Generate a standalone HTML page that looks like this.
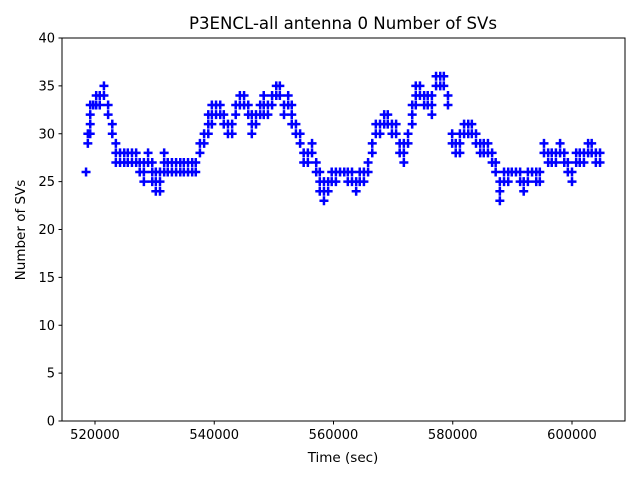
<!DOCTYPE html>
<html><head><meta charset="utf-8"><style>
body{margin:0;background:#fff;}
svg{display:block;font-family:"DejaVu Sans","Liberation Sans",sans-serif;}
</style></head><body>
<svg id="chart" width="640" height="480" viewBox="0 0 640 480">
<rect width="640" height="480" fill="#fff"/>
<text x="343" y="29" font-size="16.6" text-anchor="middle">P3ENCL-all antenna 0 Number of SVs</text>
<text x="343" y="462" font-size="13.5" text-anchor="middle">Time (sec)</text>
<text x="25" y="230" font-size="13.5" text-anchor="middle" transform="rotate(-90 25 230)">Number of SVs</text>
<g id="marks"></g>
<g id="axes"></g>
<rect x="62" y="38" width="563" height="383" fill="none" stroke="#000" stroke-width="1"/>
</svg>
<script>
const times = [518500,518800,519200,519700,520200,520800,521500,522200,522900,523500,524200,524900,525500,526200,526900,527500,528200,528900,529600,530200,530900,531600,532200,532900,533600,534300,534900,535600,536300,536900,537600,538300,539000,539600,540300,541000,541600,542300,543000,543600,544300,545000,545700,546300,547000,547700,548300,549000,549700,550400,551000,551700,552400,553000,553700,554400,555000,555700,556400,557100,557700,558400,559100,559700,560400,561100,561800,562400,563100,563800,564400,565100,565800,566500,567100,567800,568500,569100,569800,570500,571100,571800,572500,573200,573800,574500,575200,575800,576500,577200,577900,578500,579200,579900,580500,581200,581900,582600,583200,583900,584600,585200,585900,586600,587200,587900,588600,589300,589900,590600,591300,591900,592600,593300,594000,594600,595300,596000,596600,597300,598000,598700,599300,600000,600700,601300,602000,602700,603300,604000,604700];
const lows =  [26,29,30,33,33,33,34,32,30,27,27,27,27,27,27,26,25,27,25,24,24,26,26,26,26,26,26,26,26,26,28,29,30,31,32,32,31,30,30,32,33,33,32,30,31,32,32,32,33,34,34,32,33,31,30,29,27,27,28,26,24,23,24,25,25,26,26,25,25,24,25,25,26,28,30,30,31,31,30,30,28,27,29,31,33,34,33,33,32,35,35,35,33,29,28,28,30,30,30,29,28,28,28,27,26,23,25,25,26,26,25,24,25,26,25,25,28,27,27,27,28,27,26,25,27,27,27,28,28,27,27];
const highs = [26,30,33,33,34,34,35,33,31,29,28,28,28,28,28,27,27,28,27,26,26,28,27,27,27,27,27,27,27,27,29,30,32,33,33,33,32,31,31,33,34,34,33,32,32,33,34,33,34,35,35,33,34,33,31,30,28,28,29,27,26,25,25,26,26,26,26,26,26,25,26,26,27,29,31,31,32,32,31,31,29,29,30,33,35,35,34,34,34,36,36,36,34,30,29,30,31,31,31,30,29,29,29,28,27,25,26,26,26,26,26,25,26,26,26,26,29,28,28,28,29,28,27,26,28,28,28,29,29,28,28];
const yTicks = [0,5,10,15,20,25,30,35,40];
const xTicks = [520000,540000,560000,580000,600000];
const xTickLabels = ["520000","540000","560000","580000","600000"];

const NS = "http://www.w3.org/2000/svg";
const X0 = 62, X1 = 625, Y0 = 421, Y1 = 38;
const xMin = 514466, xMax = 608888, yMin = 0, yMax = 40;
function xs(t){ return X0 + (t - xMin) / (xMax - xMin) * (X1 - X0); }
function ys(v){ return Y0 - (v - yMin) / (yMax - yMin) * (Y0 - Y1); }

const marks = document.getElementById('marks');
for (let i = 0; i < times.length; i++) {
  for (let v = lows[i]; v <= highs[i]; v++) {
    const px = xs(times[i]), py = ys(v);
    const p = document.createElementNS(NS, 'path');
    p.setAttribute('d', `M${px-4.5},${py}H${px+4.5}M${px},${py-4.5}V${py+4.5}`);
    p.setAttribute('stroke', '#0000ff');
    p.setAttribute('stroke-width', '2.5');
    
    
    marks.appendChild(p);
  }
}

const axes = document.getElementById('axes');
yTicks.forEach(v => {
  const py = ys(v);
  const l = document.createElementNS(NS, 'line');
  l.setAttribute('x1', X0 - 3.5); l.setAttribute('x2', X0);
  l.setAttribute('y1', py); l.setAttribute('y2', py);
  l.setAttribute('stroke', '#000');
  
  
  axes.appendChild(l);
  const t = document.createElementNS(NS, 'text');
  t.setAttribute('x', X0 - 7); t.setAttribute('y', py + 4.5);
  t.setAttribute('font-size', '13'); t.setAttribute('text-anchor', 'end');
  t.textContent = v;
  
  
  axes.appendChild(t);
});
xTicks.forEach((v, i) => {
  const px = xs(v);
  const l = document.createElementNS(NS, 'line');
  l.setAttribute('x1', px); l.setAttribute('x2', px);
  l.setAttribute('y1', Y0); l.setAttribute('y2', Y0 + 3.5);
  l.setAttribute('stroke', '#000');
  
  
  axes.appendChild(l);
  const t = document.createElementNS(NS, 'text');
  t.setAttribute('x', px); t.setAttribute('y', Y0 + 18);
  t.setAttribute('font-size', '13'); t.setAttribute('text-anchor', 'middle');
  t.textContent = xTickLabels[i];
  
  
  axes.appendChild(t);
});
</script>
</body></html>
